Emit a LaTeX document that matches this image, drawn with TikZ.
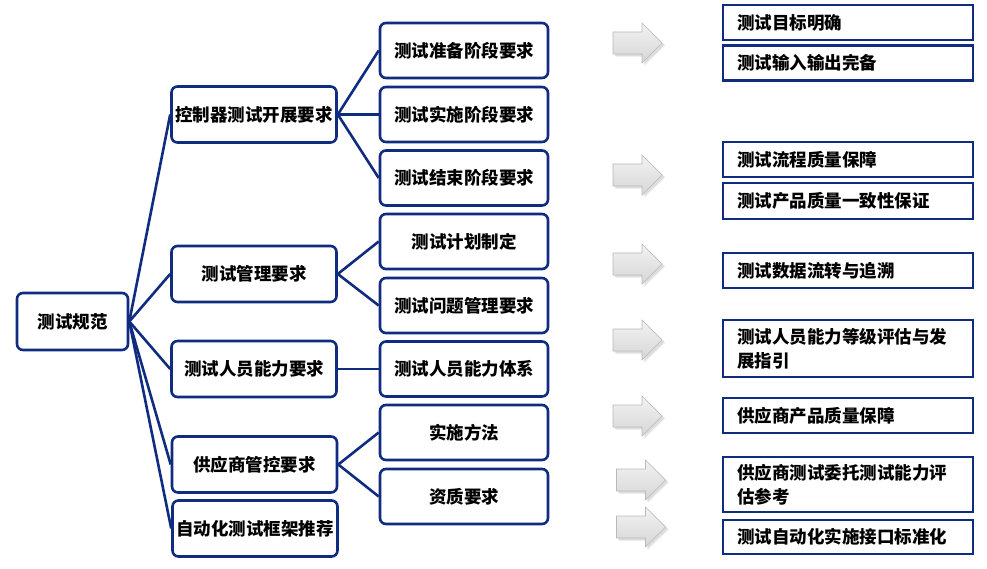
\documentclass[tikz,border=0pt]{standalone}
\usepackage{fontspec}
\setmainfont{Noto Sans CJK SC}
\definecolor{navy}{RGB}{16,44,128}
\tikzset{
  txt/.style={font=\fontsize{17.5}{24}\selectfont\bfseries},
  rbox/.style={txt, draw=navy, line width=2.6pt, rounded corners=6pt, fill=white, inner sep=0pt, align=center},
  rootbox/.style={rbox, minimum width=111pt, minimum height=57pt},
  lvone/.style={rbox, minimum width=165pt, minimum height=56pt},
  lvtwo/.style={rbox, minimum width=168pt, minimum height=55pt},
  outbox/.style={txt, draw=navy, line width=2.6pt, fill=white, text width=222pt, inner xsep=14pt, inner ysep=0pt, align=left},
  link/.style={draw=navy, line width=2.6pt},
  garrowpic/.pic={
    \begin{scope}[x=1pt,y=1pt]
      \fill[black, opacity=0.06] (-22,-14) -- (7,-14) -- (7,-23) -- (28,-2.5) -- (7,18) -- (7,9) -- (-22,9) -- cycle;
      \fill[black, opacity=0.08] (-23,-13) -- (6,-13) -- (6,-22) -- (27,-2) -- (6,18) -- (6,9) -- (-23,9) -- cycle;
      \shade[top color=gray!10, bottom color=gray!32, draw=gray!55, line width=0.6pt] (-24.5,-11) -- (4.5,-11) -- (4.5,-20) -- (24.5,0) -- (4.5,20) -- (4.5,11) -- (-24.5,11) -- cycle;
    \end{scope}
  }
}
\begin{document}
\begin{tikzpicture}[x=1pt,y=-1pt]
\useasboundingbox[fill=white] (0,0) rectangle (987,569);
% root
\node[rootbox] (root) at (72.5,321.5) {测试规范};
% level 1
\node[lvone] (c1) at (254,114.5) {控制器测试开展要求};
\node[lvone] (c2) at (254,274) {测试管理要求};
\node[lvone] (c3) at (254,369) {测试人员能力要求};
\node[lvone] (c4) at (254.5,464.5) {供应商管控要求};
\node[lvone] (c5) at (255,528.5) {自动化测试框架推荐};
% level 2
\node[lvtwo] (d1) at (464,50.5) {测试准备阶段要求};
\node[lvtwo] (d2) at (464,114.5) {测试实施阶段要求};
\node[lvtwo] (d3) at (464,178) {测试结束阶段要求};
\node[lvtwo] (d4) at (464,241.5) {测试计划制定};
\node[lvtwo] (d5) at (464,305.5) {测试问题管理要求};
\node[lvtwo] (d6) at (464,369) {测试人员能力体系};
\node[lvtwo] (d7) at (464,432.5) {实施方法};
\node[lvtwo] (d8) at (464,496.5) {资质要求};
% connectors
\foreach \c in {c1,c2,c3,c4,c5} \draw[link] (root.east) -- (\c.west);
\foreach \d in {d1,d2,d3} \draw[link] (c1.east) -- (\d.west);
\foreach \d in {d4,d5} \draw[link] (c2.east) -- (\d.west);
\draw[link] (c3.east) -- (d6.west);
\foreach \d in {d7,d8} \draw[link] (c4.east) -- (\d.west);
% arrows
\pic (a1) at (637.5,43) {garrowpic};
\pic (a2) at (637.5,175) {garrowpic};
\pic (a3) at (637.5,264) {garrowpic};
\pic (a4) at (637.5,340) {garrowpic};
\pic (a5) at (637.5,416) {garrowpic};
\pic (a6) at (641,480) {garrowpic};
\pic (a7) at (641,527) {garrowpic};
% outputs
\node[outbox, minimum height=35pt] (o1) at (848,22.5) {测试目标明确};
\node[outbox, minimum height=35pt] (o2) at (848,63) {测试输入输出完备};
\node[outbox, minimum height=35pt] (o3) at (848,159.5) {测试流程质量保障};
\node[outbox, minimum height=36pt] (o4) at (848,201) {测试产品质量一致性保证};
\node[outbox, minimum height=35pt] (o5) at (848,270.5) {测试数据流转与追溯};
\node[outbox, minimum height=57pt] (o6) at (848,348.5) {测试人员能力等级评估与发\\展指引};
\node[outbox, minimum height=35pt] (o7) at (848,415.5) {供应商产品质量保障};
\node[outbox, minimum height=55pt] (o8) at (848,484.5) {供应商测试委托测试能力评\\估参考};
\node[outbox, minimum height=34pt] (o9) at (848,537) {测试自动化实施接口标准化};
\end{tikzpicture}
\end{document}
